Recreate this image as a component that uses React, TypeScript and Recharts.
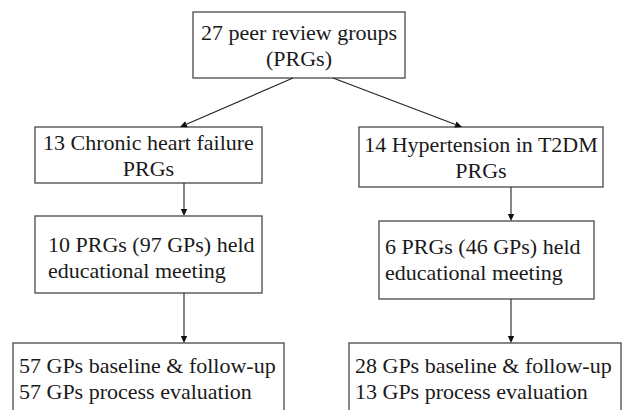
import React from "react"
import { ReferenceArea, ReferenceLine, Scatter, ScatterChart, XAxis, YAxis } from "recharts"

// box texts, one array per branch
const rootLines = ["27 peer review groups", "(PRGs)"]
const chfLines = [
  ["13 Chronic heart failure", "PRGs"],
  ["10 PRGs (97 GPs) held", "educational meeting"],
  ["57 GPs baseline & follow-up", "57 GPs process evaluation"],
]
const htnLines = [
  ["14 Hypertension in T2DM", "PRGs"],
  ["6 PRGs (46 GPs) held", "educational meeting"],
  ["28 GPs baseline & follow-up", "13 GPs process evaluation"],
]

// layout in chart units (x 0..622, y 0..410 top-down, 1 unit = 1px)
type Box = { x1: number; x2: number; y1: number; y2: number; align: "middle" | "start"; pad: number; base: number }
const rootBox: Box = { x1: 193, x2: 405, y1: 12, y2: 78, align: "middle", pad: 0, base: 28 }
const chfBoxes: Box[] = [
  { x1: 35, x2: 262, y1: 127, y2: 183, align: "middle", pad: 0, base: 23 },
  { x1: 35, x2: 262, y1: 216, y2: 293, align: "start", pad: 13, base: 36 },
  { x1: 13, x2: 284, y1: 343, y2: 430, align: "start", pad: 6, base: 30 },
]
const htnBoxes: Box[] = [
  { x1: 359, x2: 603, y1: 127, y2: 187, align: "middle", pad: 0, base: 25 },
  { x1: 379, x2: 594, y1: 221, y2: 299, align: "start", pad: 6, base: 33 },
  { x1: 349, x2: 621, y1: 343, y2: 430, align: "start", pad: 6, base: 30 },
]
const arrows = [
  [{ x: 293, y: 78 }, { x: 180, y: 127 }],
  [{ x: 333, y: 78 }, { x: 462, y: 127 }],
  [{ x: 184, y: 183 }, { x: 184, y: 216 }],
  [{ x: 184, y: 293 }, { x: 184, y: 343 }],
  [{ x: 511, y: 187 }, { x: 511, y: 221 }],
  [{ x: 511, y: 299 }, { x: 511, y: 343 }],
]

const W = 622
const H = 410
const font = "Liberation Serif, Times New Roman, serif"
const lineGap = 26

function boxShape(p: any) {
  return <rect x={p.x} y={p.y} width={p.width} height={p.height} fill="#fff" stroke="#555" strokeWidth={1.4} />
}

function arrowShape(p: any) {
  const { x1, y1, x2, y2 } = p
  const len = Math.hypot(x2 - x1, y2 - y1)
  const ux = (x2 - x1) / len
  const uy = (y2 - y1) / len
  const hl = 7
  const hw = 3.2
  const bx = x2 - ux * hl
  const by = y2 - uy * hl
  const pts = `${x2},${y2} ${bx - uy * hw},${by + ux * hw} ${bx + uy * hw},${by - ux * hw}`
  return (
    <g>
      <line x1={x1} y1={y1} x2={bx} y2={by} stroke="#222" strokeWidth={1.1} />
      <polygon points={pts} fill="#111" />
    </g>
  )
}

const allBoxes = [
  { lines: rootLines, box: rootBox },
  ...chfLines.map((lines, i) => ({ lines, box: chfBoxes[i] })),
  ...htnLines.map((lines, i) => ({ lines, box: htnBoxes[i] })),
]

// box texts go in a plain svg laid over the chart: inside the chart surface
// the serif face kept falling back to sans
function BoxTexts() {
  return (
    <svg width={W} height={H} style={{ position: "absolute", left: 0, top: 0, pointerEvents: "none" }}>
      {allBoxes.map(({ lines, box }, b) => {
        const tx = box.align === "middle" ? (box.x1 + box.x2) / 2 : box.x1 + box.pad
        return lines.map((l, i) => (
          <text
            key={b + "-" + i}
            x={tx}
            y={box.y1 + box.base + i * lineGap}
            textAnchor={box.align}
            fontFamily={font}
            fontSize={22}
            fill="#1a1a1a"
          >
            {l}
          </text>
        ))
      })}
    </svg>
  )
}

export default function App() {
  return (
    <div style={{ position: "absolute", left: 0, top: 0, width: W, height: H, background: "#fff", overflow: "hidden" }}>
      <ScatterChart width={W} height={H} margin={{ top: 0, right: 0, bottom: 0, left: 0 }}>
        <XAxis type="number" dataKey="x" domain={[0, W]} hide allowDataOverflow />
        <YAxis type="number" dataKey="y" domain={[0, H]} reversed hide allowDataOverflow />
        <Scatter data={[]} isAnimationActive={false} />
        {arrows.map((seg, i) => (
          <ReferenceLine key={"a" + i} segment={seg} shape={arrowShape} ifOverflow="visible" />
        ))}
        {allBoxes.map(({ box }, i) => (
          <ReferenceArea key={"b" + i} x1={box.x1} x2={box.x2} y1={box.y1} y2={box.y2} ifOverflow="visible" shape={boxShape} />
        ))}
      </ScatterChart>
      <BoxTexts />
    </div>
  )
}
